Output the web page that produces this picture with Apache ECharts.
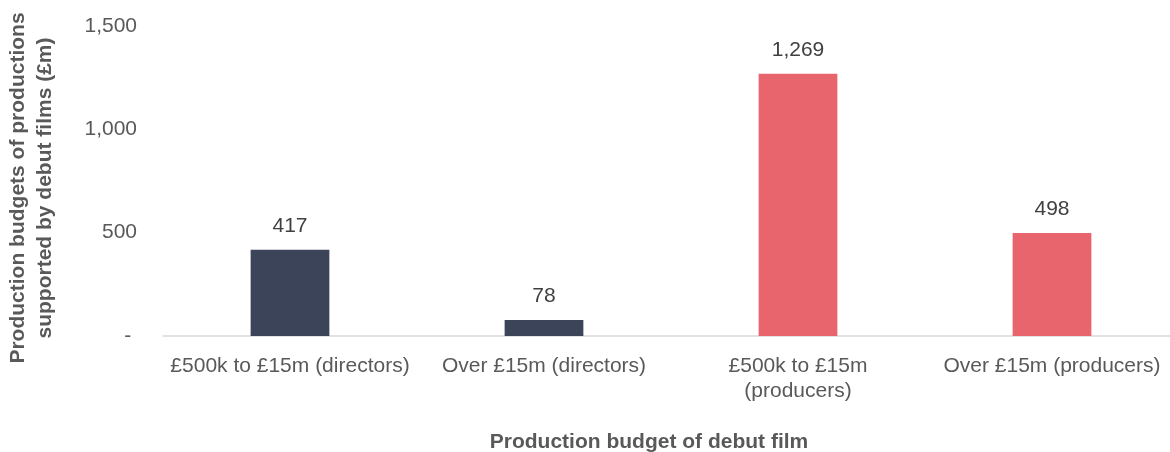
<!DOCTYPE html>
<html>
<head>
<meta charset="utf-8">
<script src="https://cdn.jsdelivr.net/npm/echarts@6/dist/echarts.min.js"></script>
<style>
  html, body { margin: 0; padding: 0; background: #ffffff; }
  #chart { width: 1170px; height: 452px; }
</style>
</head>
<body>
<div id="chart"></div>
<script>
// Budget bands of the debut film
const categories = [
  '£500k to £15m (directors)',
  'Over £15m (directors)',
  '£500k to £15m\n(producers)',
  'Over £15m (producers)'
];
// Production budgets supported, £m
const values = [417, 78, 1269, 498];
const barColors = ['#3b4458', '#3b4458', '#e8656d', '#e8656d'];
const yTicks = [0, 500, 1000, 1500];

const font = 'Liberation Sans, Arial, sans-serif';
const textGrey = '#595959';

const chart = echarts.init(document.getElementById('chart'));

chart.setOption({
  animation: false,
  grid: { left: 163, right: -9, top: 26, bottom: 116, outerBoundsMode: 'none' },
  xAxis: {
    type: 'category',
    data: categories,
    axisLine: { lineStyle: { color: '#d9d9d9', width: 1.5 } },
    axisTick: { show: false },
    axisLabel: {
      color: textGrey, fontFamily: font, fontSize: 21,
      lineHeight: 25, margin: 18, interval: 0
    },
    name: 'Production budget of debut film',
    nameLocation: 'middle',
    nameGap: 96,
    nameTextStyle: {
      color: textGrey, fontFamily: font, fontSize: 21, fontWeight: 'bold',
      padding: [0, 44, 0, 0]
    }
  },
  yAxis: {
    type: 'value',
    min: yTicks[0],
    max: yTicks[yTicks.length - 1],
    interval: 500,
    splitLine: { show: false },
    axisLine: { show: false },
    axisTick: { show: false },
    axisLabel: {
      color: textGrey, fontFamily: font, fontSize: 21, margin: 26,
      formatter: v => v === 0 ? '- ' : v.toLocaleString('en-GB')
    },
    name: 'Production budgets of productions\nsupported by debut films (£m)',
    nameLocation: 'middle',
    nameGap: 104,
    nameRotate: 90,
    nameTextStyle: {
      color: textGrey, fontFamily: font, fontSize: 21, fontWeight: 'bold',
      lineHeight: 27, padding: [0, 14, 0, 0]
    }
  },
  series: [{
    type: 'bar',
    barWidth: '31%',
    data: values.map((v, i) => ({ value: v, itemStyle: { color: barColors[i] } })),
    label: {
      show: true,
      position: 'top',
      distance: 13,
      color: '#404040',
      fontFamily: font,
      fontSize: 21,
      formatter: p => p.value.toLocaleString('en-GB')
    }
  }]
});
</script>
</body>
</html>
